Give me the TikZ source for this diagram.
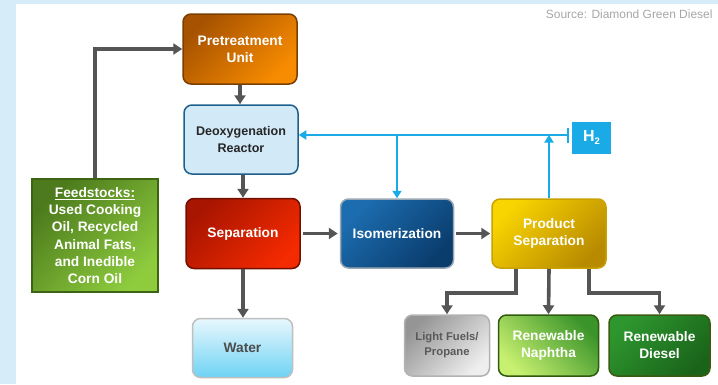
\documentclass[tikz,border=0pt]{standalone}
\usepackage{fontspec}
\setmainfont{Liberation Sans}
\usetikzlibrary{arrows.meta}
\definecolor{bgblue}{HTML}{D6ECF8}
\definecolor{arrgray}{HTML}{555555}
\definecolor{h2blue}{HTML}{1AAAE6}
\definecolor{preA}{HTML}{A65200}
\definecolor{preB}{HTML}{F88C00}
\definecolor{preD}{HTML}{7A3F00}
\definecolor{deoF}{HTML}{D2EAF8}
\definecolor{deoD}{HTML}{1F5F8B}
\definecolor{sepA}{HTML}{A81500}
\definecolor{sepB}{HTML}{F42A00}
\definecolor{sepD}{HTML}{701000}
\definecolor{isoA}{HTML}{1C6DB0}
\definecolor{isoB}{HTML}{0A3C6C}
\definecolor{isoD}{HTML}{9AA8B4}
\definecolor{psA}{HTML}{F8D400}
\definecolor{psB}{HTML}{B88A00}
\definecolor{psD}{HTML}{C9A200}
\definecolor{feA}{HTML}{4C7A1C}
\definecolor{feB}{HTML}{8ECC3E}
\definecolor{feD}{HTML}{3C6412}
\definecolor{waA}{HTML}{E8F7FD}
\definecolor{waB}{HTML}{6ED3F4}
\definecolor{liA}{HTML}{959595}
\definecolor{liB}{HTML}{EEEEEE}
\definecolor{naA}{HTML}{C8F070}
\definecolor{naB}{HTML}{3A942A}
\definecolor{naD}{HTML}{2F5A10}
\definecolor{diA}{HTML}{2E962E}
\definecolor{diB}{HTML}{1A641A}
\definecolor{diD}{HTML}{3A5A10}
\begin{document}
\begin{tikzpicture}[x=1bp,y=-1bp,
  box/.style={draw, line width=1.5bp, rounded corners=8bp, align=center,
    font=\bfseries\fontsize{13.8}{17}\selectfont, text=white, inner sep=0pt},
  garrow/.style={draw=arrgray, line width=3.6bp, -{Triangle[length=9bp,width=11bp]}},
  barrow/.style={draw=h2blue, line width=2.9bp, -{Triangle[length=7.5bp,width=9bp]}}
]
\useasboundingbox (0,0) rectangle (718,384);
\fill[bgblue] (0,0) rectangle (718,4);
\fill[bgblue] (0,0) rectangle (16,384);

\node[anchor=base east, text=black!35, font=\fontsize{12}{14}\selectfont] (src) at (716,18) {Source: Diamond Green Diesel};

\node[box, draw=preD, top color=preA, bottom color=preB, shading angle=45,
  minimum width=114bp, minimum height=70bp] (pre) at (240,49) {Pretreatment\\Unit};
\node[box, draw=deoD, fill=deoF, text=black!85,
  minimum width=114bp, minimum height=69bp, font=\bfseries\fontsize{12.6}{16.5}\selectfont] (deo) at (241,139.5) {Deoxygenation\\Reactor};
\node[box, draw=sepD, top color=sepA, bottom color=sepB, shading angle=45,
  minimum width=114bp, minimum height=70bp] (sep) at (243,233.5) {Separation};
\node[box, draw=isoD, top color=isoA, bottom color=isoB, shading angle=45,
  minimum width=113bp, minimum height=69bp] (iso) at (397,233.5) {Isomerization};
\node[box, draw=psD, top color=psA, bottom color=psB, shading angle=45,
  minimum width=114bp, minimum height=69bp] (ps) at (549,233.5) {Product\\Separation};
\node[draw=h2blue, fill=h2blue, text=white, minimum width=38bp, minimum height=31bp,
  inner sep=0pt, font=\bfseries\fontsize{16}{16}\selectfont] (h2) at (591.5,137.5)
  {H\raisebox{-0.45ex}{\fontsize{9.5}{9}\selectfont 2}};
\node[box, rounded corners=0pt, draw=feD, top color=feA, bottom color=feB, shading angle=45,
  minimum width=126bp, minimum height=113bp, font=\bfseries\fontsize{13.8}{17.3}\selectfont] (feed) at (95,235.5)
  {\underline{Feedstocks:}\\Used Cooking\\Oil, Recycled\\Animal Fats,\\and Inedible\\Corn Oil};
\node[box, draw=black!25, top color=waA, bottom color=waB, text=black!70,
  minimum width=100bp, minimum height=59bp] (water) at (242.5,348) {Water};
\node[box, draw=black!30, top color=liA, bottom color=liB, shading angle=45, text=black!65,
  minimum width=85bp, minimum height=61bp, font=\bfseries\fontsize{11.3}{15}\selectfont] (light) at (447,345.5) {Light Fuels/\\Propane};
\node[box, draw=naD, top color=naB, bottom color=naA, shading angle=-45,
  minimum width=100bp, minimum height=61bp] (naph) at (548.5,345.5) {Renewable\\Naphtha};
\node[box, draw=diD, top color=diA, bottom color=diB, shading angle=45,
  minimum width=101bp, minimum height=61bp] (dies) at (659.5,345.5) {Renewable\\Diesel};

% gray flows
\draw[garrow] (feed.north) |- (pre.west);
\draw[garrow] (pre.south) -- (pre.south |- deo.north);
\draw[garrow] ([xshift=2bp]deo.south) -- ([xshift=2bp]deo.south |- sep.north);
\draw[garrow] (sep.south) -- (sep.south |- water.north);
\draw[garrow, shorten <=2bp, shorten >=2bp] (sep.east) -- (iso.west);
\draw[garrow, shorten <=2bp, shorten >=1bp] (iso.east) -- (ps.west);
\draw[garrow] ([xshift=-33bp]ps.south) -- ++(0,24) -| (light.north);
\draw[garrow] (ps.south) -- (naph.north);
\draw[garrow] ([xshift=40bp]ps.south) -- ++(0,24) -| (dies.north);

% hydrogen
\coordinate (hl) at (0,135);
\draw[barrow, {Bar[width=15bp,line width=2.2bp]}-{Triangle[length=7.5bp,width=9bp]}, shorten <=3bp]
  (h2.west |- hl) -- (deo.east |- hl);
\draw[barrow] (iso.north |- hl) -- (iso.north);
\draw[barrow] (ps.north) -- (ps.north |- hl);
\end{tikzpicture}
\end{document}
